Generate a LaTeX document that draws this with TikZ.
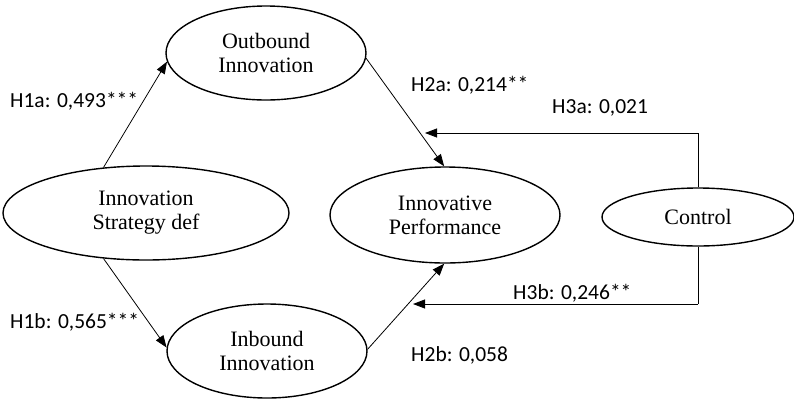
\documentclass[tikz,border=0pt]{standalone}
\usepackage{fontspec}
\setmainfont{Liberation Serif}
\newfontfamily\lblfont{Carlito}
\usetikzlibrary{shapes.geometric,arrows.meta}
\begin{document}
\begin{tikzpicture}[x=1pt,y=-1pt,
  latent/.style={draw,ellipse,line width=1.4pt,inner sep=0pt,align=center,
    font=\fontsize{22}{24}\selectfont},
  conn/.style={line width=0.8pt,-{Triangle[length=12pt,width=9pt]}},
  plain/.style={line width=0.8pt},
  lbl/.style={font=\lblfont\fontsize{21.5}{24}\selectfont,inner sep=0pt}]
\useasboundingbox (0,0) rectangle (794,402);
\node[latent,minimum width=200pt,minimum height=94pt] (out) at (266,53) {Outbound\\Innovation};
\node[latent,minimum width=286pt,minimum height=94pt] (strat) at (146,213) {Innovation\\Strategy def};
\node[latent,minimum width=200pt,minimum height=94pt] (in) at (267,351) {Inbound\\Innovation};
\node[latent,minimum width=230pt,minimum height=96pt] (perf) at (445,215) {Innovative\\Performance};
\node[latent,minimum width=192pt,minimum height=58pt] (ctrl) at (698,217) {Control};
\coordinate (c3a) at (698,133);
\coordinate (e3a) at (425,133);
\coordinate (c3b) at (698,304);
\coordinate (e3b) at (413,304);
\draw[conn] (strat.133) -- (out.185);
\draw[conn] (strat.227) -- (in.178);
\draw[conn] (out.357) -- (perf.91);
\draw[conn] (in.1) -- (perf.269);
\draw[plain] (ctrl.north) -- (c3a);
\draw[conn] (c3a) -- (e3a);
\draw[plain] (ctrl.south) -- (c3b);
\draw[conn] (c3b) -- (e3b);
\node[lbl,anchor=west] (l1a) at (10,101) {H1a: 0,493***};
\node[lbl,anchor=west] (l1b) at (10,322) {H1b: 0,565***};
\node[lbl,anchor=west] (l2a) at (411,85) {H2a: 0,214**};
\node[lbl,anchor=west] (l3a) at (552,108) {H3a: 0,021};
\node[lbl,anchor=west] (l3b) at (513,293) {H3b: 0,246**};
\node[lbl,anchor=west] (l2b) at (411,355) {H2b: 0,058};
\end{tikzpicture}
\end{document}
